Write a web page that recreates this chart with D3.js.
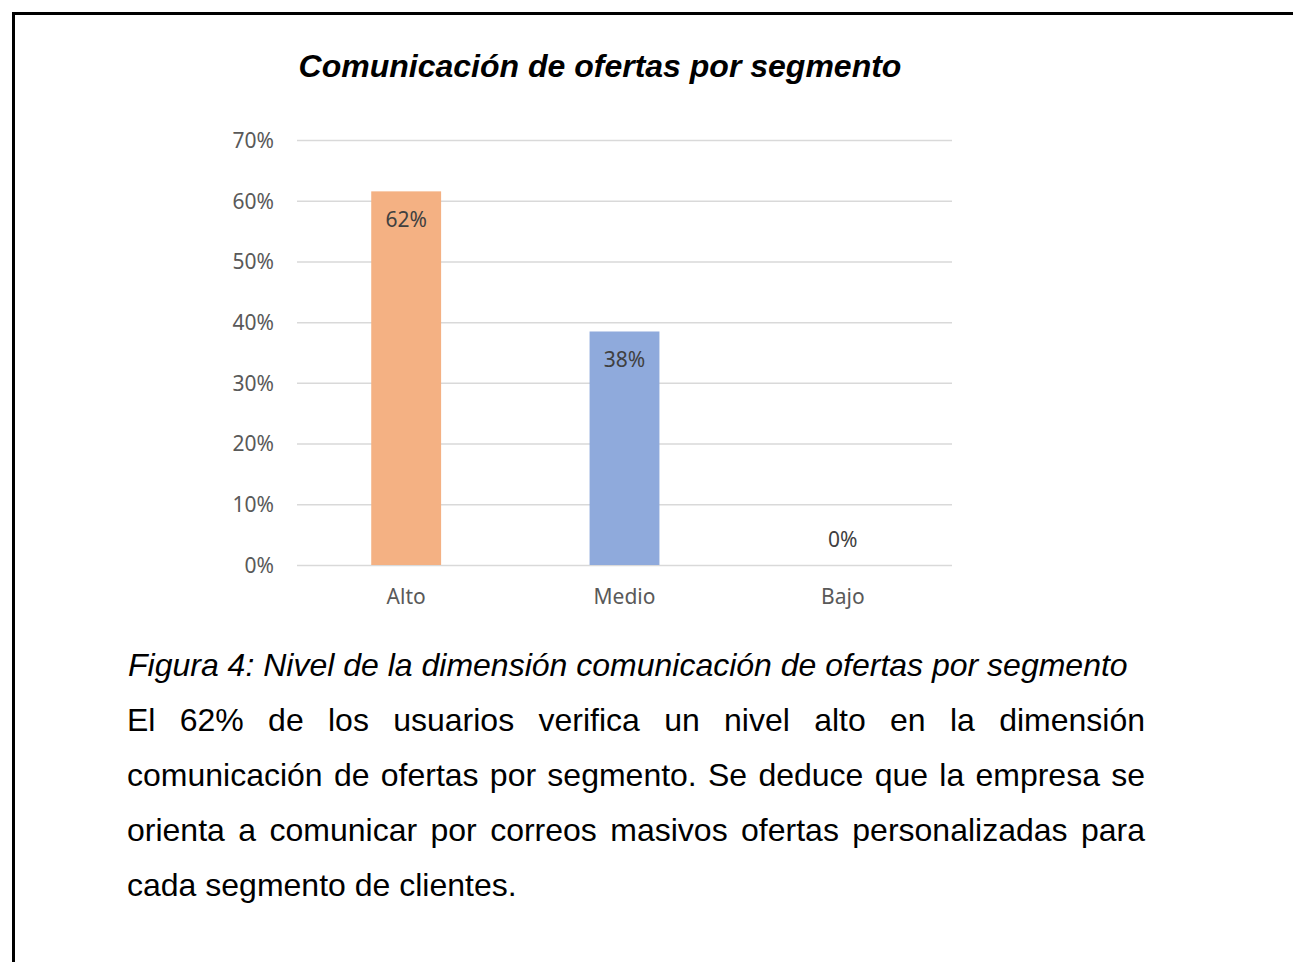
<!DOCTYPE html>
<html>
<head>
<meta charset="utf-8">
<script src="https://cdn.jsdelivr.net/npm/d3@7"></script>
<style>
  body { margin: 0; background: #fff; }
  svg { display: block; }
</style>
</head>
<body>
<div id="chart"></div>
<script>
// data
var categories = ["Alto", "Medio", "Bajo"];
var values = [0.6154, 0.3846, 0];
var barColors = ["#F4B183", "#8FAADC", "#A9D18E"];
var yTicks = [0, 0.1, 0.2, 0.3, 0.4, 0.5, 0.6, 0.7];

var chartTitle = "Comunicación de ofertas por segmento";
var figCaption = "Figura 4: Nivel de la dimensión comunicación de ofertas por segmento";
var bodyLines = [
  "El 62% de los usuarios verifica un nivel alto en la dimensión",
  "comunicación de ofertas por segmento. Se deduce que la empresa se",
  "orienta a comunicar por correos masivos ofertas personalizadas para",
  "cada segmento de clientes."
];

var svgWidth = 1293;
var svgHeight = 962;

var plot = { left: 297, right: 952, top: 140, bottom: 565 };

var svg = d3.select("#chart")
  .append("svg")
  .attr("width", svgWidth)
  .attr("height", svgHeight);

var textFont = "Liberation Sans, Arial, sans-serif";

// frame (only top and left edges are visible)
svg.append("path")
  .attr("d", `M13.5,${svgHeight} V13.5 H${svgWidth}`)
  .attr("fill", "none")
  .attr("stroke", "#000")
  .attr("stroke-width", 3);

svg.append("text")
  .attr("x", 600)
  .attr("y", 77)
  .attr("text-anchor", "middle")
  .attr("font-family", textFont)
  .attr("font-weight", "bold")
  .attr("font-style", "italic")
  .attr("font-size", 32)
  .text(chartTitle);

var x = d3.scaleBand()
  .domain(categories)
  .range([plot.left, plot.right])
  .paddingInner(0.68)
  .paddingOuter(0.34);

var y = d3.scaleLinear()
  .domain([0, 0.7])
  .range([plot.bottom, plot.top]);

var chartFont = "Noto Sans, Open Sans, sans-serif";
var gray = "#595959";

// gridlines + y labels
var yAxis = svg.append("g")
  .attr("transform", `translate(${plot.left},0)`)
  .call(d3.axisLeft(y).tickValues(yTicks).tickFormat(d3.format(".0%"))
    .tickSize(-(plot.right - plot.left)).tickPadding(23));

yAxis.select(".domain").remove();
yAxis.selectAll(".tick line")
  .attr("stroke", "#d9d9d9")
  .attr("stroke-width", 1.5);
yAxis.selectAll(".tick text")
  .attr("fill", gray)
  .attr("font-family", chartFont)
  .attr("font-size", 21)
  .attr("dy", "0.35em");

// bars
svg.selectAll("rect.bar")
  .data(values)
  .enter()
  .append("rect")
  .attr("class", "bar")
  .attr("x", (d, i) => x(categories[i]))
  .attr("y", (d) => y(d))
  .attr("width", x.bandwidth())
  .attr("height", (d) => y(0) - y(d))
  .attr("fill", (d, i) => barColors[i]);

// data labels (inside end)
svg.selectAll("text.val")
  .data(values)
  .enter()
  .append("text")
  .attr("class", "val")
  .attr("x", (d, i) => x(categories[i]) + x.bandwidth() / 2)
  .attr("y", (d) => d > 0 ? y(d) + 36 : y(0) - 18)
  .attr("text-anchor", "middle")
  .attr("fill", "#404040")
  .attr("font-family", chartFont)
  .attr("font-size", 21)
  .text((d) => d3.format(".0%")(d));

// category labels
var xAxis = svg.append("g")
  .attr("transform", `translate(0,${plot.bottom})`)
  .call(d3.axisBottom(x).tickSize(0).tickPadding(24));

xAxis.select(".domain").remove();
xAxis.selectAll(".tick text")
  .attr("fill", gray)
  .attr("font-family", chartFont)
  .attr("font-size", 21);

// caption
svg.append("text")
  .attr("x", 128)
  .attr("y", 676)
  .attr("font-family", textFont)
  .attr("font-style", "italic")
  .attr("font-size", 32)
  .text(figCaption);

// justified paragraph
var textLeft = 127;
var textRight = 1145;
var lineGap = 55;

bodyLines.forEach(function (line, li) {
  var words = line.split(" ");
  var baseY = 731 + li * lineGap;
  var g = svg.append("g");
  var nodes = words.map(function (w) {
    return g.append("text")
      .attr("y", baseY)
      .attr("font-family", textFont)
      .attr("font-size", 32)
      .attr("fill", "#000")
      .text(w);
  });
  var widths = nodes.map((n) => n.node().getComputedTextLength());
  var total = d3.sum(widths);
  var last = li === bodyLines.length - 1;
  var space = last ? 32 * 0.278 : (textRight - textLeft - total) / (words.length - 1);
  var cx = textLeft;
  nodes.forEach(function (n, i) {
    n.attr("x", cx);
    cx += widths[i] + space;
  });
});
</script>
</body>
</html>
